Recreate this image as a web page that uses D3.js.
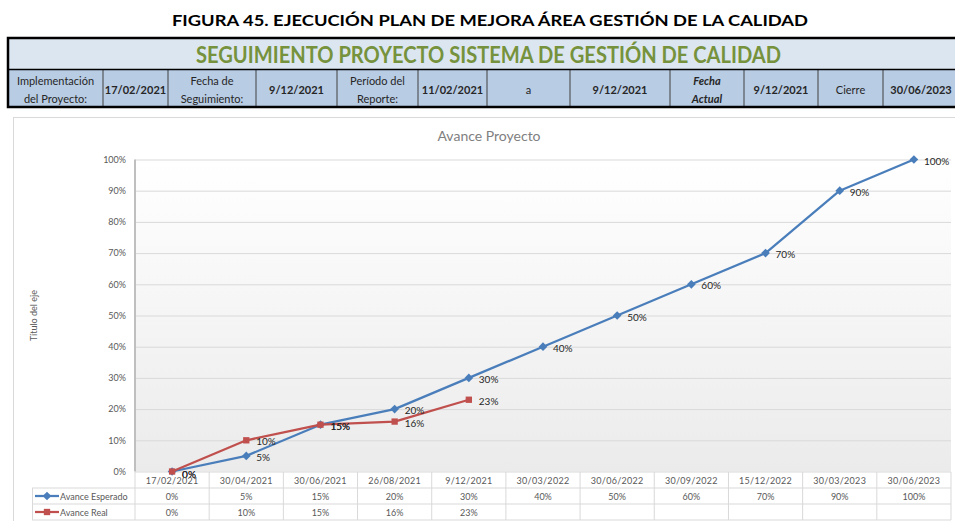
<!DOCTYPE html>
<html>
<head>
<meta charset="utf-8">
<script src="https://cdn.jsdelivr.net/npm/d3@7"></script>
<style>
  body { margin: 0; background: #fff; }
  svg { display: block; font-family: Lato, "Open Sans", sans-serif; }
</style>
</head>
<body>
<script>
// Datos
const fechas = ['17/02/2021', '30/04/2021', '30/06/2021', '26/08/2021', '9/12/2021',
  '30/03/2022', '30/06/2022', '30/09/2022', '15/12/2022', '30/03/2023', '30/06/2023'];
const avanceEsperado = [0, 0.05, 0.15, 0.20, 0.30, 0.40, 0.50, 0.60, 0.70, 0.90, 1.00];
const avanceReal = [0, 0.10, 0.15, 0.16, 0.23];
const yTicks = [0, 0.1, 0.2, 0.3, 0.4, 0.5, 0.6, 0.7, 0.8, 0.9, 1.0];

const headerCells = [
  { x0: 8, x1: 103, lines: ['Implementación', 'del Proyecto:'], bold: false },
  { x0: 103, x1: 168, lines: ['17/02/2021'], bold: true },
  { x0: 168, x1: 256, lines: ['Fecha de', 'Seguimiento:'], bold: false },
  { x0: 256, x1: 337, lines: ['9/12/2021'], bold: true },
  { x0: 337, x1: 418, lines: ['Período del', 'Reporte:'], bold: false },
  { x0: 418, x1: 487, lines: ['11/02/2021'], bold: true },
  { x0: 487, x1: 570, lines: ['a'], bold: false },
  { x0: 570, x1: 670, lines: ['9/12/2021'], bold: true },
  { x0: 670, x1: 744, lines: ['Fecha', 'Actual'], bold: true, italic: true },
  { x0: 744, x1: 818, lines: ['9/12/2021'], bold: true },
  { x0: 818, x1: 883, lines: ['Cierre'], bold: false },
  { x0: 883, x1: 960, lines: ['30/06/2023'], bold: true }
];

const series = [
  { name: 'Avance Esperado', values: avanceEsperado, color: '#4a7ebb', symbol: d3.symbolDiamond2, size: 48 },
  { name: 'Avance Real', values: avanceReal, color: '#c0504d', symbol: d3.symbolSquare, size: 40 }
];

const W = 955, H = 521;
const svg = d3.select('body').append('svg').attr('width', W).attr('height', H);

// Titulo de la figura
svg.append('text')
  .text('FIGURA 45. EJECUCIÓN PLAN DE MEJORA ÁREA GESTIÓN DE LA CALIDAD')
  .attr('x', 172).attr('y', 26)
  .attr('textLength', 636).attr('lengthAdjust', 'spacingAndGlyphs')
  .attr('font-size', 16).attr('font-weight', 'bold').attr('fill', '#000');

// Encabezado
const head = svg.append('g');
head.append('rect').attr('x', 8).attr('y', 38).attr('width', 960).attr('height', 31).attr('fill', '#dce6f1');
head.append('rect').attr('x', 8).attr('y', 69).attr('width', 960).attr('height', 38).attr('fill', '#b8cce4');
head.append('text')
  .text('SEGUIMIENTO PROYECTO SISTEMA DE GESTIÓN DE CALIDAD')
  .attr('x', 196).attr('y', 63)
  .attr('textLength', 585).attr('lengthAdjust', 'spacingAndGlyphs')
  .attr('font-size', 23).attr('font-weight', 'bold').attr('fill', '#76923c');

headerCells.forEach(c => {
  if (c.x0 > 8) {
    head.append('line').attr('x1', c.x0).attr('x2', c.x0).attr('y1', 69).attr('y2', 107)
      .attr('stroke', '#404040').attr('stroke-width', 1);
  }
  const cx = (c.x0 + Math.min(c.x1, 955)) / 2 + (c.x1 > 955 ? 2 : 0);
  c.lines.forEach((l, i) => {
    const y = c.lines.length === 1 ? 89 : 80 + i * 18;
    head.append('text').text(l)
      .attr('x', cx).attr('y', y)
      .attr('text-anchor', 'middle').attr('dominant-baseline', 'central')
      .attr('font-size', 11)
      .attr('font-weight', c.bold ? 'bold' : 'normal')
      .attr('font-style', c.italic ? 'italic' : 'normal')
      .attr('fill', '#262626');
  });
});
head.append('line').attr('x1', 8).attr('x2', 960).attr('y1', 69.5).attr('y2', 69.5).attr('stroke', '#000').attr('stroke-width', 1.5);
head.append('rect').attr('x', 8).attr('y', 38).attr('width', 960).attr('height', 69)
  .attr('fill', 'none').attr('stroke', '#000').attr('stroke-width', 2.5);

// Area del grafico
svg.append('rect').attr('x', 13.5).attr('y', 117.5).attr('width', 960).attr('height', 420)
  .attr('fill', '#fff').attr('stroke', '#d9d9d9');

const plot = { left: 135, right: 951, top: 159.5, bottom: 471.5 };

const x = d3.scaleBand().domain(fechas).range([plot.left, plot.right]);
const y = d3.scaleLinear().domain([0, 1]).range([plot.bottom, plot.top]);

const defs = svg.append('defs');
const grad = defs.append('linearGradient').attr('id', 'bg').attr('x1', 0).attr('x2', 0).attr('y1', 0).attr('y2', 1);
grad.append('stop').attr('offset', '0%').attr('stop-color', '#ffffff');
grad.append('stop').attr('offset', '100%').attr('stop-color', '#ebebeb');

svg.append('rect')
  .attr('x', plot.left).attr('y', plot.top)
  .attr('width', plot.right - plot.left).attr('height', plot.bottom - plot.top)
  .attr('fill', 'url(#bg)');

svg.append('text').text('Avance Proyecto')
  .attr('x', 489).attr('y', 135)
  .attr('text-anchor', 'middle').attr('dominant-baseline', 'central')
  .attr('font-size', 14).attr('fill', '#808080');

// Eje Y y rejilla
const yAxis = d3.axisLeft(y)
  .tickValues(yTicks)
  .tickFormat(d3.format('.0%'))
  .tickSize(-(plot.right - plot.left))
  .tickPadding(9);

const gy = svg.append('g')
  .attr('transform', `translate(${plot.left},0)`)
  .call(yAxis);
gy.select('.domain').remove();
gy.selectAll('.tick line').attr('stroke', '#d9d9d9');
gy.selectAll('.tick text').attr('font-size', 9).attr('fill', '#595959')
  .attr('font-family', 'Lato, sans-serif');

svg.append('line')
  .attr('x1', plot.left).attr('x2', plot.left)
  .attr('y1', plot.top).attr('y2', plot.bottom)
  .attr('stroke', '#bfbfbf').attr('stroke-width', 2);

svg.append('text').text('Título del eje')
  .attr('transform', `translate(33,${(plot.top + plot.bottom) / 2}) rotate(-90)`)
  .attr('text-anchor', 'middle').attr('dominant-baseline', 'central')
  .attr('font-size', 9).attr('fill', '#595959');

// Series
const line = d3.line()
  .x((d, i) => x(fechas[i]) + x.bandwidth() / 2)
  .y(d => y(d));

series.forEach(s => {
  const g = svg.append('g');
  g.append('path')
    .datum(s.values)
    .attr('d', line)
    .attr('fill', 'none')
    .attr('stroke', s.color)
    .attr('stroke-width', 2.25)
    .attr('stroke-linejoin', 'round');

  g.selectAll('path.marker')
    .data(s.values)
    .enter()
    .append('path')
    .attr('class', 'marker')
    .attr('d', d3.symbol().type(s.symbol).size(s.size))
    .attr('transform', (d, i) => `translate(${x(fechas[i]) + x.bandwidth() / 2},${y(d)})`)
    .attr('fill', s.color);
});

// Etiquetas de datos (las de 0% y 15% se superponen como en el original)
series.forEach(s => {
  svg.append('g').selectAll('text')
    .data(s.values)
    .enter()
    .append('text')
    .text(d => d3.format('.0%')(d))
    .attr('x', (d, i) => x(fechas[i]) + x.bandwidth() / 2 + 10)
    .attr('y', (d, i) => y(d) + (i === 0 ? 2 : 1))
    .attr('dominant-baseline', 'central')
    .attr('font-size', 10)
    .attr('fill', '#262626');
});

// Tabla de datos
const rows = [472, 488, 504, 520];
const table = svg.append('g');
rows.slice(1).forEach(r => {
  table.append('line').attr('x1', 32).attr('x2', plot.right).attr('y1', r).attr('y2', r)
    .attr('stroke', '#d9d9d9');
});
fechas.forEach(f => {
  table.append('line').attr('x1', x(f) + x.bandwidth()).attr('x2', x(f) + x.bandwidth())
    .attr('y1', rows[0]).attr('y2', rows[3]).attr('stroke', '#d9d9d9');
});
table.append('line').attr('x1', plot.left).attr('x2', plot.left)
  .attr('y1', rows[0]).attr('y2', rows[3]).attr('stroke', '#d9d9d9');
table.append('line').attr('x1', 32.5).attr('x2', 32.5)
  .attr('y1', rows[1]).attr('y2', rows[3]).attr('stroke', '#d9d9d9');

table.selectAll('text.cat')
  .data(fechas)
  .enter()
  .append('text')
  .attr('class', 'cat')
  .text(d => d)
  .attr('x', d => x(d) + x.bandwidth() / 2)
  .attr('y', (rows[0] + rows[1]) / 2)
  .attr('text-anchor', 'middle').attr('dominant-baseline', 'central')
  .attr('font-size', 9).attr('letter-spacing', 0.3).attr('fill', '#595959');

series.forEach((s, k) => {
  const cy = (rows[k + 1] + rows[k + 2]) / 2;
  table.selectAll('text.v' + k)
    .data(s.values)
    .enter()
    .append('text')
    .text(d => d3.format('.0%')(d))
    .attr('x', (d, i) => x(fechas[i]) + x.bandwidth() / 2)
    .attr('y', cy)
    .attr('text-anchor', 'middle').attr('dominant-baseline', 'central')
    .attr('font-size', 9).attr('fill', '#595959');

  table.append('line').attr('x1', 35).attr('x2', 59).attr('y1', cy).attr('y2', cy)
    .attr('stroke', s.color).attr('stroke-width', 2.25);
  table.append('path')
    .attr('d', d3.symbol().type(s.symbol).size(s.size))
    .attr('transform', `translate(47,${cy})`)
    .attr('fill', s.color);
  table.append('text').text(s.name)
    .attr('x', 60).attr('y', cy)
    .attr('dominant-baseline', 'central')
    .attr('font-size', 9).attr('fill', '#595959');
});
</script>
</body>
</html>
